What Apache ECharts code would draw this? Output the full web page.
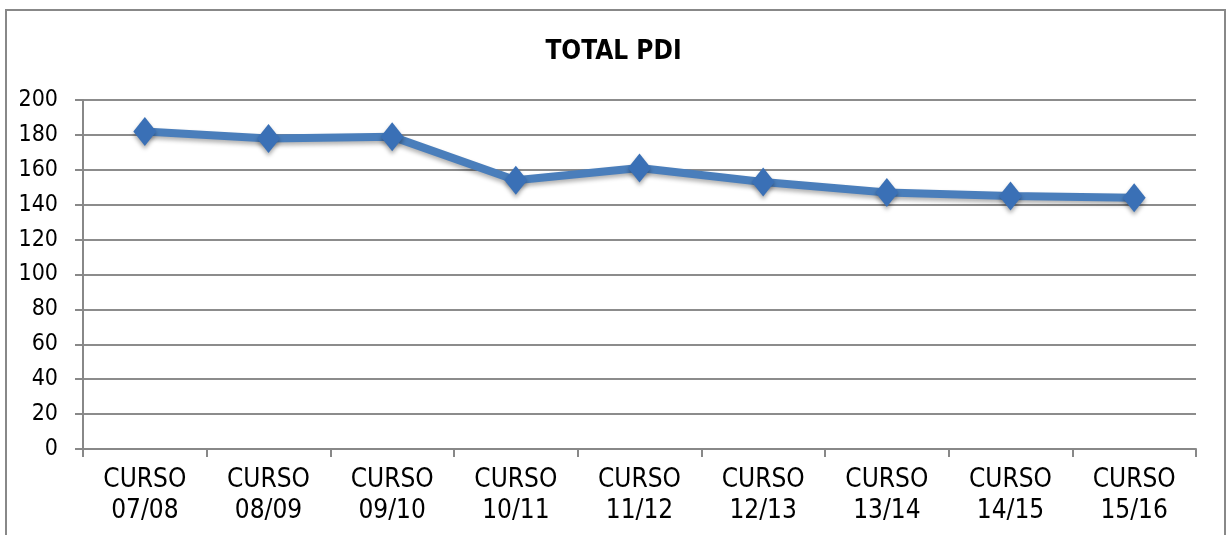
<!DOCTYPE html>
<html>
<head>
<meta charset="utf-8">
<script src="https://cdn.jsdelivr.net/npm/echarts@6/dist/echarts.min.js"></script>
<style>
html,body{margin:0;padding:0;background:#fff;}
#c{width:1227px;height:535px;}
</style>
</head>
<body>
<div id="c"></div>
<script>
var categories = ['CURSO\n07/08','CURSO\n08/09','CURSO\n09/10','CURSO\n10/11','CURSO\n11/12','CURSO\n12/13','CURSO\n13/14','CURSO\n14/15','CURSO\n15/16'];
var totalPDI = [182, 178, 179, 154, 161, 153, 147, 145, 144];
var yTicks = {min: 0, max: 200, interval: 20};
var titleText = 'TOTAL PDI';

var FONT = '"Liberation Sans Narrow", "Arial Narrow", "DejaVu Sans Condensed", "Liberation Sans", Arial, sans-serif';
var chart = echarts.init(document.getElementById('c'));
chart.setOption({
  animation: false,
  backgroundColor: '#fff',
  title: {
    text: titleText,
    left: 'center',
    top: 34,
    textStyle: {fontFamily: FONT, fontSize: 26, fontWeight: 'bold', color: '#000'}
  },
  graphic: [{
    type: 'rect',
    shape: {x: 6, y: 10, width: 1219, height: 600},
    style: {fill: 'none', stroke: '#888', lineWidth: 2},
    silent: true
  }],
  grid: {left: 83, right: 31, top: 100, bottom: 86},
  xAxis: {
    type: 'category',
    data: categories,
    boundaryGap: true,
    axisLine: {lineStyle: {color: '#888', width: 2}},
    axisTick: {show: true, length: 8, alignWithLabel: false, lineStyle: {color: '#888', width: 2}},
    axisLabel: {fontFamily: FONT, fontSize: 26, lineHeight: 31, color: '#000', margin: 16, interval: 0}
  },
  yAxis: {
    type: 'value',
    min: yTicks.min, max: yTicks.max, interval: yTicks.interval,
    axisLine: {show: true, lineStyle: {color: '#888', width: 2}},
    axisTick: {show: true, length: 8, inside: false, lineStyle: {color: '#888', width: 2}},
    splitLine: {lineStyle: {color: '#8c8c8c', width: 2}},
    axisLabel: {fontFamily: FONT, fontSize: 23, color: '#000', margin: 25}
  },
  series: [{
    type: 'line',
    data: totalPDI,
    symbol: 'diamond',
    symbolSize: [23, 29],
    lineStyle: {color: '#4a7ebb', width: 8, shadowColor: 'rgba(0,0,0,0.3)', shadowBlur: 4, shadowOffsetY: 3},
    itemStyle: {color: '#3a70b6', shadowColor: 'rgba(0,0,0,0.35)', shadowBlur: 4, shadowOffsetY: 3}
  }]
});
</script>
</body>
</html>
